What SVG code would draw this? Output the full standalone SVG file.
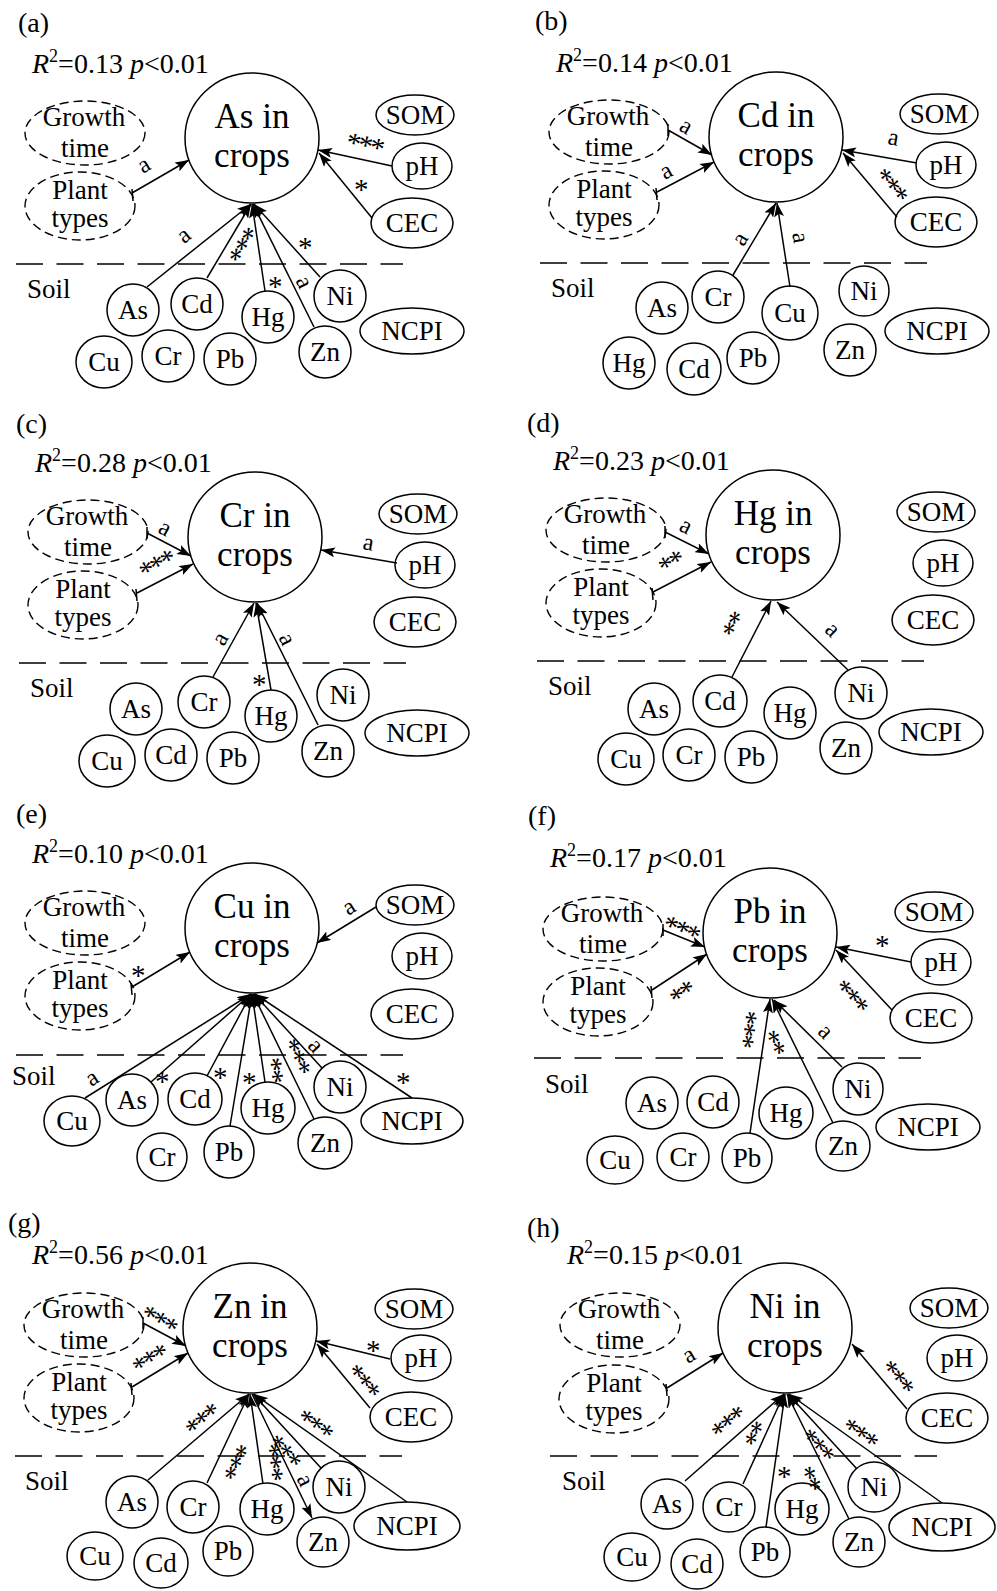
<svg xmlns="http://www.w3.org/2000/svg" width="997" height="1591" viewBox="0 0 997 1591">
<style>
.n{fill:#fff;stroke:#000;stroke-width:1.5}
.dn{fill:#fff;stroke:#000;stroke-width:1.4;stroke-dasharray:9 5}
text{font-family:"Liberation Serif","Times New Roman",serif;fill:#000}
.t{font-size:27px;text-anchor:middle}
.s{font-size:27px}
.b{font-size:35px;text-anchor:middle}
.p{font-size:28px}
.l{font-size:24px;text-anchor:middle}
.x{font-size:29px;letter-spacing:-2.5px;text-anchor:middle}
.e{fill:none;stroke:#000;stroke-width:1.5;marker-end:url(#ah)}
.k{fill:none;stroke:#000;stroke-width:1.5}
.sep{stroke:#000;stroke-width:1.6;stroke-dasharray:27 13.5}
</style>
<defs>
<marker id="ah" viewBox="0 0 14 10" refX="14" refY="5" markerWidth="14" markerHeight="10" markerUnits="userSpaceOnUse" orient="auto"><path d="M0,0 L14,5 L0,10 L3,5 z" fill="#000"/></marker>
</defs>
<rect width="997" height="1591" fill="#fff"/>

<!-- (a) -->
<g id="panel-a" transform="translate(0,0)">
<text class="p" x="18" y="32">(a)</text>
<text class="p" x="32" y="73"><tspan font-style="italic">R</tspan><tspan font-size="18" dy="-11">2</tspan><tspan dy="11">=0.13 </tspan><tspan font-style="italic">p</tspan>&lt;0.01</text>
<line class="sep" x1="16" y1="264" x2="403" y2="264"/>
<text class="s" x="27" y="298">Soil</text>
<g id="a-target"><ellipse class="n" cx="252" cy="138" rx="67" ry="65"/><text class="b" x="252" y="128">As in</text><text class="b" x="252" y="167">crops</text></g>
<g id="a-growth"><ellipse class="dn" cx="85" cy="133" rx="60" ry="32"/><text class="t" x="84" y="126">Growth</text><text class="t" x="85" y="157">time</text></g>
<g id="a-plant"><ellipse class="dn" cx="80" cy="206" rx="55" ry="34"/><text class="t" x="80" y="199">Plant</text><text class="t" x="80" y="227">types</text></g>
<g id="a-SOM"><ellipse class="n" cx="415" cy="115" rx="39" ry="20"/><text class="t" x="415" y="124">SOM</text></g>
<g id="a-pH"><ellipse class="n" cx="422" cy="166" rx="30" ry="23"/><text class="t" x="422" y="175">pH</text></g>
<g id="a-CEC"><ellipse class="n" cx="412" cy="223" rx="41" ry="25"/><text class="t" x="412" y="232">CEC</text></g>
<g id="a-As"><ellipse class="n" cx="133" cy="310" rx="26" ry="26"/><text class="t" x="133" y="319">As</text></g>
<g id="a-Cd"><ellipse class="n" cx="197" cy="304" rx="26" ry="26"/><text class="t" x="197" y="313">Cd</text></g>
<g id="a-Hg"><ellipse class="n" cx="268" cy="317" rx="26" ry="26"/><text class="t" x="268" y="326">Hg</text></g>
<g id="a-Ni"><ellipse class="n" cx="340" cy="296" rx="26" ry="26"/><text class="t" x="340" y="305">Ni</text></g>
<g id="a-Cu"><ellipse class="n" cx="104" cy="362" rx="28" ry="26"/><text class="t" x="104" y="371">Cu</text></g>
<g id="a-Cr"><ellipse class="n" cx="168" cy="356" rx="26" ry="26"/><text class="t" x="168" y="365">Cr</text></g>
<g id="a-Pb"><ellipse class="n" cx="230" cy="359" rx="26" ry="26"/><text class="t" x="230" y="368">Pb</text></g>
<g id="a-Zn"><ellipse class="n" cx="325" cy="352" rx="26" ry="26"/><text class="t" x="325" y="361">Zn</text></g>
<g id="a-NCPI"><ellipse class="n" cx="412" cy="331" rx="52" ry="23"/><text class="t" x="412" y="340">NCPI</text></g>
<g id="a-edges">
<path class="e" d="M132,193 L189,160"/><path class="k" d="M132,189 L133,201"/>
<path class="e" d="M392,166 L318,150"/>
<path class="e" d="M372,218 L319,153"/>
<path class="e" d="M147,287 L251,204"/>
<path class="e" d="M207,278 L251,204"/>
<path class="e" d="M265,291 L252,204"/>
<path class="e" d="M314,327 L253,204"/>
<path class="e" d="M320,277 L254,204"/>
<text class="l" transform="translate(145,167) rotate(-31)" y="5">a</text>
<text class="x" transform="translate(365,141) rotate(12)" y="14">***</text>
<text class="x" transform="translate(360,185)" y="14">*</text>
<text class="l" transform="translate(185,237) rotate(-38)" y="5">a</text>
<text class="x" transform="translate(241,245) rotate(-59)" y="14">***</text>
<text class="x" transform="translate(274,282)" y="14">*</text>
<text class="l" transform="translate(302,283) rotate(64)" y="5">a</text>
<text class="x" transform="translate(304,243)" y="14">*</text>
</g>
</g>

<!-- (b) -->
<g id="panel-b" transform="translate(524,-1)">
<text class="p" x="11" y="31">(b)</text>
<text class="p" x="32" y="73"><tspan font-style="italic">R</tspan><tspan font-size="18" dy="-11">2</tspan><tspan dy="11">=0.14 </tspan><tspan font-style="italic">p</tspan>&lt;0.01</text>
<line class="sep" x1="16" y1="264" x2="403" y2="264"/>
<text class="s" x="27" y="298">Soil</text>
<g id="b-target"><ellipse class="n" cx="252" cy="138" rx="67" ry="65"/><text class="b" x="252" y="128">Cd in</text><text class="b" x="252" y="167">crops</text></g>
<g id="b-growth"><ellipse class="dn" cx="85" cy="133" rx="60" ry="32"/><text class="t" x="84" y="126">Growth</text><text class="t" x="85" y="157">time</text></g>
<g id="b-plant"><ellipse class="dn" cx="80" cy="206" rx="55" ry="34"/><text class="t" x="80" y="199">Plant</text><text class="t" x="80" y="227">types</text></g>
<g id="b-SOM"><ellipse class="n" cx="415" cy="115" rx="39" ry="20"/><text class="t" x="415" y="124">SOM</text></g>
<g id="b-pH"><ellipse class="n" cx="422" cy="166" rx="30" ry="23"/><text class="t" x="422" y="175">pH</text></g>
<g id="b-CEC"><ellipse class="n" cx="412" cy="223" rx="41" ry="25"/><text class="t" x="412" y="232">CEC</text></g>
<g id="b-As"><ellipse class="n" cx="138" cy="309" rx="26" ry="26"/><text class="t" x="138" y="318">As</text></g>
<g id="b-Cr"><ellipse class="n" cx="194" cy="298" rx="26" ry="26"/><text class="t" x="194" y="307">Cr</text></g>
<g id="b-Cu"><ellipse class="n" cx="266" cy="314" rx="28" ry="27"/><text class="t" x="266" y="323">Cu</text></g>
<g id="b-Ni"><ellipse class="n" cx="340" cy="292" rx="25" ry="25"/><text class="t" x="340" y="301">Ni</text></g>
<g id="b-Hg"><ellipse class="n" cx="105" cy="364" rx="26" ry="26"/><text class="t" x="105" y="373">Hg</text></g>
<g id="b-Cd"><ellipse class="n" cx="170" cy="370" rx="27" ry="26"/><text class="t" x="170" y="379">Cd</text></g>
<g id="b-Pb"><ellipse class="n" cx="229" cy="359" rx="26" ry="26"/><text class="t" x="229" y="368">Pb</text></g>
<g id="b-Zn"><ellipse class="n" cx="326" cy="351" rx="26" ry="26"/><text class="t" x="326" y="360">Zn</text></g>
<g id="b-NCPI"><ellipse class="n" cx="413" cy="332" rx="52" ry="23"/><text class="t" x="413" y="341">NCPI</text></g>
<g id="b-edges">
<path class="e" d="M144,131 L188,156"/><path class="k" d="M144,125 L144,137"/>
<path class="e" d="M133,193 L190,163"/><path class="k" d="M132,189 L133,201"/>
<path class="e" d="M393,164 L318,151"/>
<path class="e" d="M373,218 L319,154"/>
<path class="e" d="M209,276 L252,204"/>
<path class="e" d="M266,288 L253,204"/>
<text class="l" transform="translate(161,129) rotate(30)" y="5">a</text>
<text class="l" transform="translate(143,174) rotate(-28)" y="5">a</text>
<text class="l" transform="translate(369,141) rotate(10)" y="5">a</text>
<text class="x" transform="translate(369,184) rotate(50)" y="14">***</text>
<text class="l" transform="translate(218,241) rotate(-59)" y="5">a</text>
<text class="l" transform="translate(274,239) rotate(81)" y="5">a</text>
</g>
</g>

<!-- (c) -->
<g id="panel-c" transform="translate(3,399)">
<text class="p" x="13" y="34">(c)</text>
<text class="p" x="32" y="73"><tspan font-style="italic">R</tspan><tspan font-size="18" dy="-11">2</tspan><tspan dy="11">=0.28 </tspan><tspan font-style="italic">p</tspan>&lt;0.01</text>
<line class="sep" x1="16" y1="264" x2="403" y2="264"/>
<text class="s" x="27" y="298">Soil</text>
<g id="c-target"><ellipse class="n" cx="252" cy="138" rx="67" ry="65"/><text class="b" x="252" y="128">Cr in</text><text class="b" x="252" y="167">crops</text></g>
<g id="c-growth"><ellipse class="dn" cx="85" cy="133" rx="60" ry="32"/><text class="t" x="84" y="126">Growth</text><text class="t" x="85" y="157">time</text></g>
<g id="c-plant"><ellipse class="dn" cx="80" cy="206" rx="55" ry="34"/><text class="t" x="80" y="199">Plant</text><text class="t" x="80" y="227">types</text></g>
<g id="c-SOM"><ellipse class="n" cx="415" cy="115" rx="39" ry="20"/><text class="t" x="415" y="124">SOM</text></g>
<g id="c-pH"><ellipse class="n" cx="422" cy="166" rx="30" ry="23"/><text class="t" x="422" y="175">pH</text></g>
<g id="c-CEC"><ellipse class="n" cx="412" cy="223" rx="41" ry="25"/><text class="t" x="412" y="232">CEC</text></g>
<g id="c-As"><ellipse class="n" cx="133" cy="310" rx="26" ry="26"/><text class="t" x="133" y="319">As</text></g>
<g id="c-Cr"><ellipse class="n" cx="201" cy="303" rx="26" ry="26"/><text class="t" x="201" y="312">Cr</text></g>
<g id="c-Hg"><ellipse class="n" cx="268" cy="317" rx="26" ry="26"/><text class="t" x="268" y="326">Hg</text></g>
<g id="c-Ni"><ellipse class="n" cx="340" cy="296" rx="26" ry="26"/><text class="t" x="340" y="305">Ni</text></g>
<g id="c-Cu"><ellipse class="n" cx="104" cy="362" rx="28" ry="26"/><text class="t" x="104" y="371">Cu</text></g>
<g id="c-Cd"><ellipse class="n" cx="168" cy="356" rx="26" ry="26"/><text class="t" x="168" y="365">Cd</text></g>
<g id="c-Pb"><ellipse class="n" cx="230" cy="359" rx="26" ry="26"/><text class="t" x="230" y="368">Pb</text></g>
<g id="c-Zn"><ellipse class="n" cx="325" cy="352" rx="26" ry="26"/><text class="t" x="325" y="361">Zn</text></g>
<g id="c-NCPI"><ellipse class="n" cx="414" cy="334" rx="52" ry="23"/><text class="t" x="414" y="343">NCPI</text></g>
<g id="c-edges">
<path class="e" d="M144,134 L188,157"/><path class="k" d="M144,128 L144,140"/>
<path class="e" d="M134,194 L190,165"/><path class="k" d="M133,190 L134,202"/>
<path class="e" d="M394,164 L318,151"/>
<path class="e" d="M210,278 L251,204"/>
<path class="e" d="M268,291 L253,204"/>
<path class="e" d="M315,326 L254,204"/>
<text class="l" transform="translate(161,131) rotate(28)" y="5">a</text>
<text class="x" transform="translate(152,163) rotate(-28)" y="14">***</text>
<text class="l" transform="translate(365,146) rotate(10)" y="5">a</text>
<text class="l" transform="translate(219,241) rotate(-60)" y="5">a</text>
<text class="x" transform="translate(255,281)" y="14">*</text>
<text class="l" transform="translate(282,241) rotate(64)" y="5">a</text>
</g>
</g>

<!-- (d) -->
<g id="panel-d" transform="translate(521,397)">
<text class="p" x="6" y="35">(d)</text>
<text class="p" x="32" y="73"><tspan font-style="italic">R</tspan><tspan font-size="18" dy="-11">2</tspan><tspan dy="11">=0.23 </tspan><tspan font-style="italic">p</tspan>&lt;0.01</text>
<line class="sep" x1="16" y1="264" x2="403" y2="264"/>
<text class="s" x="27" y="298">Soil</text>
<g id="d-target"><ellipse class="n" cx="252" cy="138" rx="67" ry="65"/><text class="b" x="252" y="128">Hg in</text><text class="b" x="252" y="167">crops</text></g>
<g id="d-growth"><ellipse class="dn" cx="85" cy="133" rx="60" ry="32"/><text class="t" x="84" y="126">Growth</text><text class="t" x="85" y="157">time</text></g>
<g id="d-plant"><ellipse class="dn" cx="80" cy="206" rx="55" ry="34"/><text class="t" x="80" y="199">Plant</text><text class="t" x="80" y="227">types</text></g>
<g id="d-SOM"><ellipse class="n" cx="415" cy="115" rx="39" ry="20"/><text class="t" x="415" y="124">SOM</text></g>
<g id="d-pH"><ellipse class="n" cx="422" cy="166" rx="30" ry="23"/><text class="t" x="422" y="175">pH</text></g>
<g id="d-CEC"><ellipse class="n" cx="412" cy="223" rx="41" ry="25"/><text class="t" x="412" y="232">CEC</text></g>
<g id="d-As"><ellipse class="n" cx="133" cy="312" rx="26" ry="26"/><text class="t" x="133" y="321">As</text></g>
<g id="d-Cd"><ellipse class="n" cx="199" cy="304" rx="27" ry="26"/><text class="t" x="199" y="313">Cd</text></g>
<g id="d-Hg"><ellipse class="n" cx="269" cy="316" rx="26" ry="26"/><text class="t" x="269" y="325">Hg</text></g>
<g id="d-Ni"><ellipse class="n" cx="340" cy="296" rx="26" ry="26"/><text class="t" x="340" y="305">Ni</text></g>
<g id="d-Cu"><ellipse class="n" cx="105" cy="362" rx="28" ry="26"/><text class="t" x="105" y="371">Cu</text></g>
<g id="d-Cr"><ellipse class="n" cx="168" cy="358" rx="26" ry="26"/><text class="t" x="168" y="367">Cr</text></g>
<g id="d-Pb"><ellipse class="n" cx="230" cy="360" rx="26" ry="26"/><text class="t" x="230" y="369">Pb</text></g>
<g id="d-Zn"><ellipse class="n" cx="325" cy="351" rx="26" ry="26"/><text class="t" x="325" y="360">Zn</text></g>
<g id="d-NCPI"><ellipse class="n" cx="410" cy="335" rx="52" ry="23"/><text class="t" x="410" y="344">NCPI</text></g>
<g id="d-edges">
<path class="e" d="M144,135 L188,157"/><path class="k" d="M144,129 L144,141"/>
<path class="e" d="M132,195 L190,165"/><path class="k" d="M131,191 L132,203"/>
<path class="e" d="M211,280 L250,204"/>
<path class="e" d="M327,273 L256,205"/>
<text class="l" transform="translate(164,131) rotate(27)" y="5">a</text>
<text class="x" transform="translate(148,163) rotate(-28)" y="14">**</text>
<text class="x" transform="translate(210,227) rotate(-62)" y="14">**</text>
<text class="l" transform="translate(310,234) rotate(44)" y="5">a</text>
</g>
</g>

<!-- (e) -->
<g id="panel-e" transform="translate(0,790)">
<text class="p" x="16" y="33">(e)</text>
<text class="p" x="32" y="73"><tspan font-style="italic">R</tspan><tspan font-size="18" dy="-11">2</tspan><tspan dy="11">=0.10 </tspan><tspan font-style="italic">p</tspan>&lt;0.01</text>
<line class="sep" x1="16" y1="265" x2="403" y2="265"/>
<text class="s" x="12" y="295">Soil</text>
<g id="e-target"><ellipse class="n" cx="252" cy="138" rx="67" ry="65"/><text class="b" x="252" y="128">Cu in</text><text class="b" x="252" y="167">crops</text></g>
<g id="e-growth"><ellipse class="dn" cx="85" cy="133" rx="60" ry="32"/><text class="t" x="84" y="126">Growth</text><text class="t" x="85" y="157">time</text></g>
<g id="e-plant"><ellipse class="dn" cx="80" cy="206" rx="55" ry="34"/><text class="t" x="80" y="199">Plant</text><text class="t" x="80" y="227">types</text></g>
<g id="e-SOM"><ellipse class="n" cx="415" cy="115" rx="39" ry="20"/><text class="t" x="415" y="124">SOM</text></g>
<g id="e-pH"><ellipse class="n" cx="422" cy="166" rx="30" ry="23"/><text class="t" x="422" y="175">pH</text></g>
<g id="e-CEC"><ellipse class="n" cx="412" cy="224" rx="41" ry="25"/><text class="t" x="412" y="233">CEC</text></g>
<g id="e-Cu"><ellipse class="n" cx="72" cy="331" rx="28" ry="25"/><text class="t" x="72" y="340">Cu</text></g>
<g id="e-As"><ellipse class="n" cx="132" cy="310" rx="26" ry="26"/><text class="t" x="132" y="319">As</text></g>
<g id="e-Cd"><ellipse class="n" cx="195" cy="309" rx="27" ry="26"/><text class="t" x="195" y="318">Cd</text></g>
<g id="e-Hg"><ellipse class="n" cx="268" cy="318" rx="27" ry="26"/><text class="t" x="268" y="327">Hg</text></g>
<g id="e-Ni"><ellipse class="n" cx="340" cy="297" rx="26" ry="26"/><text class="t" x="340" y="306">Ni</text></g>
<g id="e-Cr"><ellipse class="n" cx="162" cy="367" rx="25" ry="24"/><text class="t" x="162" y="376">Cr</text></g>
<g id="e-Pb"><ellipse class="n" cx="229" cy="362" rx="25" ry="26"/><text class="t" x="229" y="371">Pb</text></g>
<g id="e-Zn"><ellipse class="n" cx="325" cy="353" rx="27" ry="26"/><text class="t" x="325" y="362">Zn</text></g>
<g id="e-NCPI"><ellipse class="n" cx="412" cy="331" rx="51" ry="23"/><text class="t" x="412" y="340">NCPI</text></g>
<g id="e-edges">
<path class="e" d="M376,117 L317,153"/>
<path class="e" d="M132,197 L190,162"/><path class="k" d="M131,193 L132,205"/>
<path class="e" d="M85,308 L251,204"/>
<path class="e" d="M151,292 L251,204"/>
<path class="e" d="M207,286 L251,204"/>
<path class="e" d="M230,336 L252,204"/>
<path class="e" d="M265,292 L252,204"/>
<path class="e" d="M314,329 L253,204"/>
<path class="e" d="M322,278 L254,204"/>
<path class="e" d="M412,308 L255,204"/>
<text class="l" transform="translate(350,119) rotate(-32)" y="5">a</text>
<text class="x" transform="translate(137,181)" y="14">*</text>
<text class="l" transform="translate(93,290) rotate(-32)" y="5">a</text>
<text class="x" transform="translate(161,287)" y="14">*</text>
<text class="x" transform="translate(219,283)" y="14">*</text>
<text class="x" transform="translate(248,288)" y="14">*</text>
<text class="x" transform="translate(277,279) rotate(83)" y="14">**</text>
<text class="x" transform="translate(299,265) rotate(65)" y="14">***</text>
<text class="l" transform="translate(314,257) rotate(47)" y="5">a</text>
<text class="x" transform="translate(402,288)" y="14">*</text>
</g>
</g>

<!-- (f) -->
<g id="panel-f" transform="translate(518,795)">
<text class="p" x="10" y="30">(f)</text>
<text class="p" x="32" y="72"><tspan font-style="italic">R</tspan><tspan font-size="18" dy="-11">2</tspan><tspan dy="11">=0.17 </tspan><tspan font-style="italic">p</tspan>&lt;0.01</text>
<line class="sep" x1="16" y1="263" x2="403" y2="263"/>
<text class="s" x="27" y="298">Soil</text>
<g id="f-target"><ellipse class="n" cx="252" cy="138" rx="67" ry="65"/><text class="b" x="252" y="128">Pb in</text><text class="b" x="252" y="167">crops</text></g>
<g id="f-growth"><ellipse class="dn" cx="85" cy="134" rx="60" ry="32"/><text class="t" x="84" y="127">Growth</text><text class="t" x="85" y="158">time</text></g>
<g id="f-plant"><ellipse class="dn" cx="80" cy="207" rx="55" ry="34"/><text class="t" x="80" y="200">Plant</text><text class="t" x="80" y="228">types</text></g>
<g id="f-SOM"><ellipse class="n" cx="416" cy="117" rx="39" ry="20"/><text class="t" x="416" y="126">SOM</text></g>
<g id="f-pH"><ellipse class="n" cx="423" cy="167" rx="30" ry="23"/><text class="t" x="423" y="176">pH</text></g>
<g id="f-CEC"><ellipse class="n" cx="413" cy="223" rx="41" ry="25"/><text class="t" x="413" y="232">CEC</text></g>
<g id="f-As"><ellipse class="n" cx="134" cy="308" rx="26" ry="26"/><text class="t" x="134" y="317">As</text></g>
<g id="f-Cd"><ellipse class="n" cx="195" cy="307" rx="26" ry="26"/><text class="t" x="195" y="316">Cd</text></g>
<g id="f-Hg"><ellipse class="n" cx="268" cy="318" rx="27" ry="26"/><text class="t" x="268" y="327">Hg</text></g>
<g id="f-Ni"><ellipse class="n" cx="340" cy="294" rx="25" ry="26"/><text class="t" x="340" y="303">Ni</text></g>
<g id="f-Cu"><ellipse class="n" cx="97" cy="365" rx="28" ry="24"/><text class="t" x="97" y="374">Cu</text></g>
<g id="f-Cr"><ellipse class="n" cx="165" cy="362" rx="26" ry="24"/><text class="t" x="165" y="371">Cr</text></g>
<g id="f-Pb"><ellipse class="n" cx="229" cy="363" rx="25" ry="25"/><text class="t" x="229" y="372">Pb</text></g>
<g id="f-Zn"><ellipse class="n" cx="325" cy="351" rx="27" ry="25"/><text class="t" x="325" y="360">Zn</text></g>
<g id="f-NCPI"><ellipse class="n" cx="410" cy="332" rx="52" ry="23"/><text class="t" x="410" y="341">NCPI</text></g>
<g id="f-edges">
<path class="e" d="M145,135 L187,152"/><path class="k" d="M145,129 L145,141"/>
<path class="e" d="M134,195 L189,159"/><path class="k" d="M133,191 L134,203"/>
<path class="e" d="M393,167 L318,152"/>
<path class="e" d="M374,215 L318,155"/>
<path class="e" d="M232,338 L252,204"/>
<path class="e" d="M315,328 L254,204"/>
<path class="e" d="M324,272 L256,205"/>
<text class="x" transform="translate(164,131) rotate(22)" y="14">***</text>
<text class="x" transform="translate(162,196) rotate(-34)" y="14">**</text>
<text class="x" transform="translate(363,146)" y="14">*</text>
<text class="x" transform="translate(335,199) rotate(47)" y="14">***</text>
<text class="x" transform="translate(231,236) rotate(-83)" y="14">***</text>
<text class="x" transform="translate(258,246) rotate(64)" y="14">**</text>
<text class="l" transform="translate(306,238) rotate(45)" y="5">a</text>
</g>
</g>

<!-- (g) -->
<g id="panel-g" transform="translate(-1,1191)">
<text class="p" x="9" y="41">(g)</text>
<text class="p" x="33" y="73"><tspan font-style="italic">R</tspan><tspan font-size="18" dy="-11">2</tspan><tspan dy="11">=0.56 </tspan><tspan font-style="italic">p</tspan>&lt;0.01</text>
<line class="sep" x1="16" y1="265" x2="403" y2="265"/>
<text class="s" x="26" y="299">Soil</text>
<g id="g-target"><ellipse class="n" cx="251" cy="137" rx="67" ry="65"/><text class="b" x="251" y="127">Zn in</text><text class="b" x="251" y="166">crops</text></g>
<g id="g-growth"><ellipse class="dn" cx="85" cy="134" rx="60" ry="32"/><text class="t" x="84" y="127">Growth</text><text class="t" x="85" y="158">time</text></g>
<g id="g-plant"><ellipse class="dn" cx="80" cy="207" rx="55" ry="34"/><text class="t" x="80" y="200">Plant</text><text class="t" x="80" y="228">types</text></g>
<g id="g-SOM"><ellipse class="n" cx="415" cy="118" rx="39" ry="20"/><text class="t" x="415" y="127">SOM</text></g>
<g id="g-pH"><ellipse class="n" cx="422" cy="167" rx="30" ry="23"/><text class="t" x="422" y="176">pH</text></g>
<g id="g-CEC"><ellipse class="n" cx="412" cy="226" rx="41" ry="25"/><text class="t" x="412" y="235">CEC</text></g>
<g id="g-As"><ellipse class="n" cx="133" cy="311" rx="26" ry="26"/><text class="t" x="133" y="320">As</text></g>
<g id="g-Cr"><ellipse class="n" cx="194" cy="316" rx="26" ry="26"/><text class="t" x="194" y="325">Cr</text></g>
<g id="g-Hg"><ellipse class="n" cx="268" cy="318" rx="27" ry="26"/><text class="t" x="268" y="327">Hg</text></g>
<g id="g-Ni"><ellipse class="n" cx="340" cy="296" rx="26" ry="26"/><text class="t" x="340" y="305">Ni</text></g>
<g id="g-Cu"><ellipse class="n" cx="96" cy="365" rx="28" ry="24"/><text class="t" x="96" y="374">Cu</text></g>
<g id="g-Cd"><ellipse class="n" cx="162" cy="372" rx="27" ry="25"/><text class="t" x="162" y="381">Cd</text></g>
<g id="g-Pb"><ellipse class="n" cx="229" cy="360" rx="25" ry="25"/><text class="t" x="229" y="369">Pb</text></g>
<g id="g-Zn"><ellipse class="n" cx="324" cy="351" rx="26" ry="25"/><text class="t" x="324" y="360">Zn</text></g>
<g id="g-NCPI"><ellipse class="n" cx="408" cy="335" rx="53" ry="24"/><text class="t" x="408" y="344">NCPI</text></g>
<g id="g-edges">
<path class="e" d="M144,132 L187,155"/><path class="k" d="M144,126 L144,138"/>
<path class="e" d="M133,196 L189,162"/><path class="k" d="M132,192 L133,204"/>
<path class="e" d="M391,168 L317,150"/>
<path class="e" d="M371,217 L318,153"/>
<path class="e" d="M149,289 L250,203"/>
<path class="e" d="M208,292 L250,203"/>
<path class="e" d="M264,293 L251,203"/>
<path class="e" d="M253,203 L313,327"/>
<path class="e" d="M322,277 L254,203"/>
<path class="e" d="M408,311 L255,203"/>
<text class="x" transform="translate(161,126) rotate(29)" y="14">***</text>
<text class="x" transform="translate(149,166) rotate(-31)" y="14">***</text>
<text class="x" transform="translate(373,155)" y="14">*</text>
<text class="x" transform="translate(366,188) rotate(50)" y="14">***</text>
<text class="x" transform="translate(201,227) rotate(-40)" y="14">***</text>
<text class="x" transform="translate(236,272) rotate(-64)" y="14">***</text>
<text class="x" transform="translate(277,270) rotate(83)" y="14">***</text>
<text class="l" transform="translate(304,290) rotate(64)" y="5">a</text>
<text class="x" transform="translate(287,258) rotate(47)" y="14">***</text>
<text class="x" transform="translate(317,231) rotate(35)" y="14">***</text>
</g>
</g>

<!-- (h) -->
<g id="panel-h" transform="translate(534,1191)">
<text class="p" x="-7" y="46">(h)</text>
<text class="p" x="33" y="73"><tspan font-style="italic">R</tspan><tspan font-size="18" dy="-11">2</tspan><tspan dy="11">=0.15 </tspan><tspan font-style="italic">p</tspan>&lt;0.01</text>
<line class="sep" x1="16" y1="265" x2="403" y2="265"/>
<text class="s" x="28" y="299">Soil</text>
<g id="h-target"><ellipse class="n" cx="251" cy="137" rx="67" ry="65"/><text class="b" x="251" y="127">Ni in</text><text class="b" x="251" y="166">crops</text></g>
<g id="h-growth"><ellipse class="dn" cx="86" cy="134" rx="60" ry="32"/><text class="t" x="85" y="127">Growth</text><text class="t" x="86" y="158">time</text></g>
<g id="h-plant"><ellipse class="dn" cx="80" cy="208" rx="55" ry="34"/><text class="t" x="80" y="201">Plant</text><text class="t" x="80" y="229">types</text></g>
<g id="h-SOM"><ellipse class="n" cx="415" cy="117" rx="39" ry="20"/><text class="t" x="415" y="126">SOM</text></g>
<g id="h-pH"><ellipse class="n" cx="423" cy="167" rx="30" ry="23"/><text class="t" x="423" y="176">pH</text></g>
<g id="h-CEC"><ellipse class="n" cx="413" cy="227" rx="41" ry="25"/><text class="t" x="413" y="236">CEC</text></g>
<g id="h-As"><ellipse class="n" cx="133" cy="313" rx="26" ry="25"/><text class="t" x="133" y="322">As</text></g>
<g id="h-Cr"><ellipse class="n" cx="195" cy="316" rx="26" ry="25"/><text class="t" x="195" y="325">Cr</text></g>
<g id="h-Hg"><ellipse class="n" cx="268" cy="318" rx="27" ry="26"/><text class="t" x="268" y="327">Hg</text></g>
<g id="h-Ni"><ellipse class="n" cx="340" cy="296" rx="26" ry="25"/><text class="t" x="340" y="305">Ni</text></g>
<g id="h-Cu"><ellipse class="n" cx="98" cy="366" rx="28" ry="24"/><text class="t" x="98" y="375">Cu</text></g>
<g id="h-Cd"><ellipse class="n" cx="163" cy="373" rx="26" ry="25"/><text class="t" x="163" y="382">Cd</text></g>
<g id="h-Pb"><ellipse class="n" cx="231" cy="361" rx="25" ry="25"/><text class="t" x="231" y="370">Pb</text></g>
<g id="h-Zn"><ellipse class="n" cx="325" cy="351" rx="26" ry="25"/><text class="t" x="325" y="360">Zn</text></g>
<g id="h-NCPI"><ellipse class="n" cx="408" cy="336" rx="53" ry="24"/><text class="t" x="408" y="345">NCPI</text></g>
<g id="h-edges">
<path class="e" d="M133,197 L189,162"/><path class="k" d="M132,193 L133,205"/>
<path class="e" d="M373,218 L318,153"/>
<path class="e" d="M151,290 L250,203"/>
<path class="e" d="M209,293 L250,203"/>
<path class="e" d="M232,336 L251,203"/>
<path class="e" d="M315,328 L253,203"/>
<path class="e" d="M323,278 L254,203"/>
<path class="e" d="M408,312 L255,203"/>
<text class="l" transform="translate(156,166) rotate(-31)" y="5">a</text>
<text class="x" transform="translate(365,184) rotate(50)" y="14">***</text>
<text class="x" transform="translate(192,230) rotate(-40)" y="14">***</text>
<text class="x" transform="translate(219,243) rotate(-64)" y="14">**</text>
<text class="x" transform="translate(249,281)" y="14">*</text>
<text class="x" transform="translate(278,286) rotate(64)" y="14">**</text>
<text class="x" transform="translate(285,252) rotate(46)" y="14">***</text>
<text class="x" transform="translate(327,240) rotate(35)" y="14">***</text>
</g>
</g>
</svg>
